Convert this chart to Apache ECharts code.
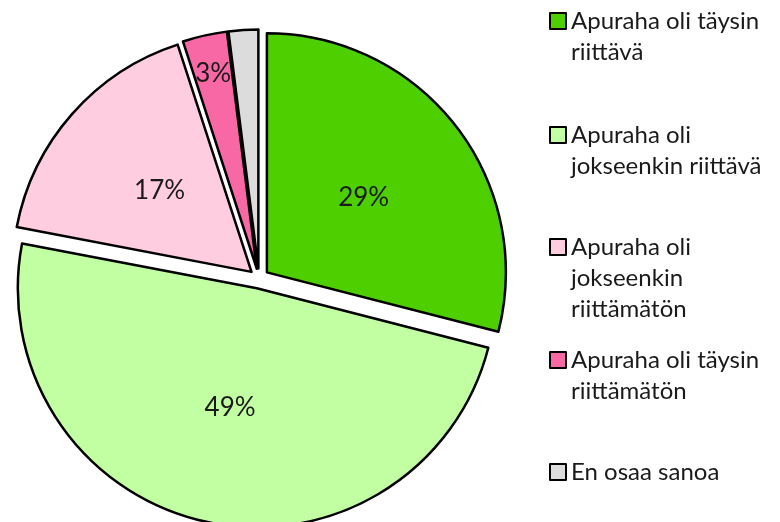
<!DOCTYPE html>
<html>
<head>
<meta charset="utf-8">
<script src="https://cdn.jsdelivr.net/npm/echarts@6/dist/echarts.min.js"></script>
<style>
  html, body { margin: 0; padding: 0; background: #fff; }
  #chart { width: 780px; height: 522px; }
</style>
</head>
<body>
<div id="chart"></div>
<script>
const categories = [
  "Apuraha oli täysin riittävä",
  "Apuraha oli jokseenkin riittävä",
  "Apuraha oli jokseenkin riittämätön",
  "Apuraha oli täysin riittämätön",
  "En osaa sanoa"
];
const shares = [29, 49, 17, 3, 2];
// legend text, wrapped as in the picture
const legendLines = [
  ["Apuraha oli täysin", "riittävä"],
  ["Apuraha oli", "jokseenkin riittävä"],
  ["Apuraha oli", "jokseenkin", "riittämätön"],
  ["Apuraha oli täysin", "riittämätön"],
  ["En osaa sanoa"]
];
const colors = ["#4dcf00", "#c2ffa2", "#ffcce0", "#f868a4", "#dcdcdc"];

const FONT = "Lato";
const LINE_H = 31;
const iconCenters = [21, 135, 247, 360, 472];

const chart = echarts.init(document.getElementById("chart"));

// one legend per entry so the icon sits next to the first text line
const legends = categories.map((name, i) => {
  const lines = legendLines[i];
  const padded = Array(lines.length - 1).fill("").concat(lines).join("\n");
  const k = 2 * lines.length - 1;
  return {
    orient: "vertical",
    left: 549,
    top: iconCenters[i] - (k * LINE_H) / 2,
    padding: 0,
    icon: "rect",
    itemWidth: 16,
    itemHeight: 16,
    selectedMode: false,
    data: [name],
    formatter: () => padded,
    itemStyle: { borderColor: "#000", borderWidth: 2 },
    textStyle: {
      fontFamily: FONT,
      fontSize: 24,
      lineHeight: LINE_H,
      color: "#1a1a1a"
    }
  };
});

chart.setOption({
  animation: false,
  color: colors,
  legend: legends,
  series: [{
    type: "pie",
    center: [259, 278.5],
    radius: 239,
    startAngle: 90,
    clockwise: true,
    selectedMode: "multiple",
    selectedOffset: 10,
    emphasis: { disabled: true },
    itemStyle: { borderColor: "#000", borderWidth: 2.5 },
    label: {
      show: true,
      position: "inside",
      formatter: "{c}%",
      fontFamily: FONT,
      fontSize: 26,
      color: "#1a1a1a"
    },
    labelLine: { show: false },
    labelLayout: (p) => p.dataIndex === 3 ? { dx: -17, dy: -76 } : {},
    data: categories.map((name, i) => ({
      name,
      value: shares[i],
      selected: true,
      label: i === 4 ? { show: false } : undefined
    }))
  }]
});
</script>
</body>
</html>
